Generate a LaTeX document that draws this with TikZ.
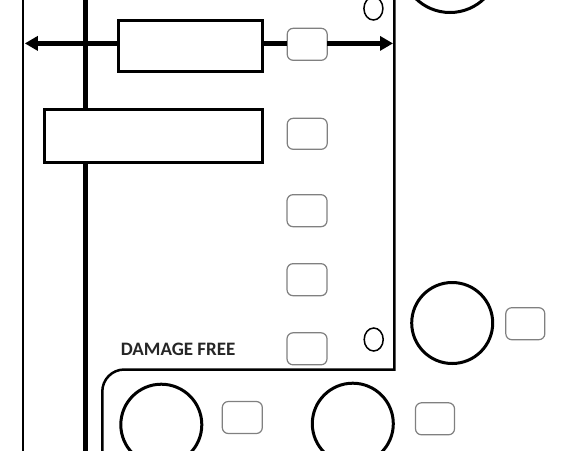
\documentclass[tikz,border=0pt]{standalone}
\usepackage{fontspec}
\setmainfont{Carlito}
\usetikzlibrary{arrows.meta,shapes.geometric}
\begin{document}
\begin{tikzpicture}[x=1pt,y=-1pt,
  bar/.style={draw=black,line width=3pt,fill=white,inner sep=0pt,outer sep=0pt},
  tag/.style={draw=black!50,line width=1.2pt,fill=white,rounded corners=6pt,
    minimum width=40pt,minimum height=32pt,inner sep=0pt,outer sep=0pt},
  wheel/.style={circle,draw=black,line width=3pt,fill=white,minimum size=81pt,inner sep=0pt,outer sep=0pt},
  pin/.style={ellipse,draw=black,line width=1.5pt,fill=white,minimum width=19pt,minimum height=23pt,inner sep=0pt,outer sep=0pt},
  thinline/.style={draw=black,line width=2.3pt},
  heavy/.style={draw=black,line width=4.8pt},
  arr/.style={heavy,-{Triangle[length=13pt,width=14pt]}},
  label/.style={font=\fontsize{19}{19}\selectfont\bfseries,inner sep=0pt,anchor=base west,text=black!85}]
\useasboundingbox (0,0) rectangle (585,450);
% frame lines
\coordinate (lt) at (23.3,-5);
\coordinate (lb) at (23.3,455);
\draw[thinline] (lt) -- (lb);
\coordinate (vt) at (85.5,-5);
\coordinate (vb) at (85.5,455);
\draw[heavy] (vt) -- (vb);
\coordinate (rt) at (394.3,-5);
\coordinate (rc) at (394.3,369.5);
\coordinate (bl) at (102.3,455);
\draw[draw=black,line width=2.5pt] (rt) -- (rc) -- (124.3,369.5) arc[start angle=-90,end angle=-180,radius=22] -- (bl);
% bars
\node[bar,minimum width=144pt,minimum height=51.5pt] (r1) at (190,45.8) {};
\node[bar,minimum width=218pt,minimum height=53pt] (r2) at (153,135.5) {};
% tags
\node[tag] (t1) at (307.2,44.3) {};
\node[tag,minimum height=31pt] (t2) at (307.2,133.8) {};
\node[tag] (t3) at (307,210.7) {};
\node[tag] (t4) at (307,279.7) {};
\node[tag] (t5) at (307,348.8) {};
\node[tag,minimum width=39pt] (t6) at (525.3,323.7) {};
\node[tag] (t7) at (242.3,417.5) {};
\node[tag,minimum width=39pt] (t8) at (435,418.8) {};
% wheels
\node[wheel,minimum size=98pt] (w0) at (450,-36.5) {};
\node[wheel] (w1) at (452.2,323) {};
\node[wheel] (w2) at (161.3,424.7) {};
\node[wheel] (w3) at (352.8,423.7) {};
% pins
\node[pin] (p1) at (373.4,8.5) {};
\node[pin] (p2) at (373.7,339.5) {};
% arrow
\coordinate (aL) at (24.8,43.4);
\coordinate (aR) at (393,43.4);
\draw[arr] (r1.west |- aL) -- (aL);
\draw[heavy] (r1.east |- aL) -- (t1.west |- aL);
\draw[arr] (t1.east |- aR) -- (aR);
% label
\node[label] (dmg) at (120.7,355) {DAMAGE FREE};
\end{tikzpicture}
\end{document}
